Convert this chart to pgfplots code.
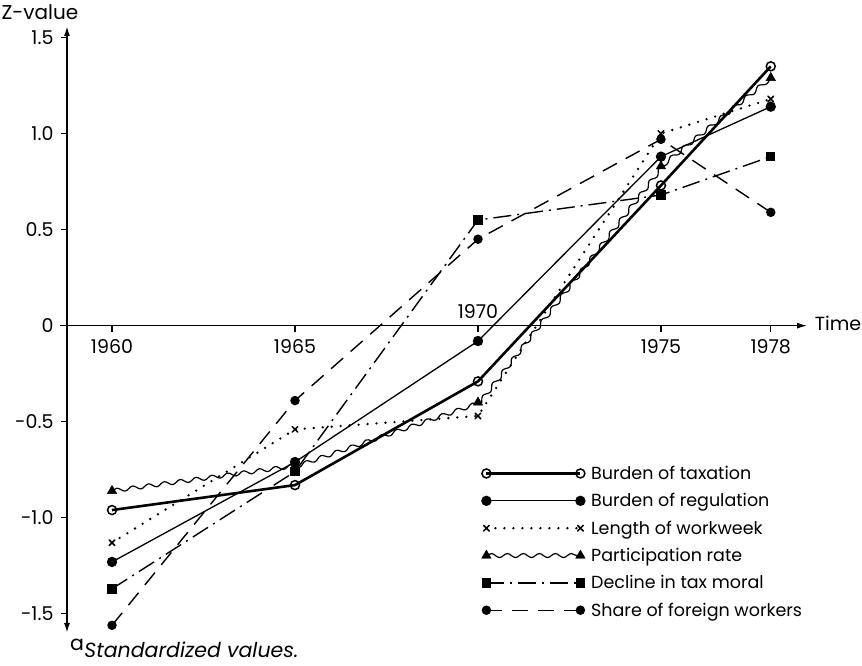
\documentclass[border=0pt]{standalone}
\usepackage{fontspec}
\setmainfont{Poppins}
\usepackage{pgfplots}
\pgfplotsset{compat=1.18}
\usetikzlibrary{decorations.pathmorphing,arrows.meta}
\begin{document}
\begin{tikzpicture}[font=\fontsize{19}{22}\selectfont]
\begin{axis}[name=ax, scale only axis, width=740pt, height=607pt,
  xmin=1958.77, xmax=1978.99, ymin=-1.6, ymax=1.56, clip=false,
  axis x line=middle, axis y line=left,
  x axis line style={line width=1.2pt, -{Latex[length=10pt,width=6pt]}},
  y axis line style={line width=1.8pt, {Latex[length=10pt,width=6pt]}-{Latex[length=10pt,width=6pt]}},
  xtick={1960,1965,1975,1978}, xticklabels={1960,1965,1975,1978},
  ytick={-1.5,-1,-0.5,0,0.5,1,1.5}, yticklabels={-1.5,-1.0,-0.5,0,0.5,1.0,1.5},
  tick align=outside, major tick length=6pt, tick style={black, line width=1.2pt},
  xticklabel style={yshift=-4pt},
  yticklabel style={xshift=-4pt},
  legend style={draw=none, fill=none, at={(0.556,0.282)}, anchor=north west, font=\fontsize{17.5}{20}\selectfont,
    row sep=8.5pt, column sep=4pt},
  legend cell align=left,
  legend image code/.code={\draw[mark repeat=1,#1] plot coordinates {(0pt,0pt) (94pt,0pt)};},
]
\addplot[black, line width=2.6pt, mark=o, mark size=4.5pt, mark options={fill=white, line width=1.5pt}]
  coordinates {(1960,-0.96)(1965,-0.83)(1970,-0.29)(1975,0.73)(1978,1.35)};
\addlegendentry{Burden of taxation}
\addplot[black, line width=1.3pt, mark=*, mark size=4.5pt]
  coordinates {(1960,-1.23)(1965,-0.71)(1970,-0.08)(1975,0.88)(1978,1.14)};
\addlegendentry{Burden of regulation}
\addplot[black, line width=2.6pt, line cap=round, dash pattern=on 0pt off 9pt, mark=x, mark size=4pt, mark options={solid, line width=1.5pt}]
  coordinates {(1960,-1.13)(1965,-0.54)(1970,-0.47)(1975,1.00)(1978,1.18)};
\addlegendentry{Length of workweek}
\addplot[black, line width=1.2pt, decoration={snake, amplitude=2pt, segment length=16pt}, decorate, forget plot]
  coordinates {(1960,-0.86)(1965,-0.73)(1970,-0.40)(1975,0.83)(1978,1.29)};
\addplot[black, only marks, mark=triangle*, mark size=5.5pt,
  legend image code/.code={\draw[black, line width=1.2pt, decoration={snake, amplitude=2pt, segment length=16pt}, decorate] (0pt,0pt) -- (94pt,0pt);
    \draw[black, draw=none, mark=triangle*, mark size=5.5pt, mark options={draw=black, fill=black}, mark repeat=1] plot coordinates {(0pt,0pt) (94pt,0pt)};}]
  coordinates {(1960,-0.86)(1965,-0.73)(1970,-0.40)(1975,0.83)(1978,1.29)};
\addlegendentry{Participation rate}
\addplot[black, line width=1.4pt, dash pattern=on 18pt off 6pt on 2pt off 6pt, mark=square*, mark size=4pt, mark options={solid}]
  coordinates {(1960,-1.37)(1965,-0.76)(1970,0.55)(1975,0.68)(1978,0.88)};
\addlegendentry{Decline in tax moral}
\addplot[black, line width=1.4pt, dash pattern=on 16pt off 10pt, mark=*, mark size=4pt, mark options={solid}]
  coordinates {(1960,-1.56)(1965,-0.39)(1970,0.45)(1975,0.97)(1978,0.59)};
\addlegendentry{Share of foreign workers}
\draw[line width=1.2pt] (axis cs:1958.58,0) -- (axis cs:1958.77,0);
\draw[line width=1.2pt] (axis cs:1970,0) -- (axis cs:1970,-0.035);
\node[anchor=south] at (axis cs:1970,0.02) {1970};
\node[font=\fontsize{20}{22}\selectfont] at (axis cs:1958.03,1.63) {Z-value};
\node[anchor=west, inner sep=0pt] at (axis cs:1979.2,0.01) {Time};
\node[anchor=base west, inner sep=0pt, font=\fontsize{20.5}{22}\selectfont] at (axis cs:1958.85,-1.73) {$^{\textrm{a}}$\textit{Standardized values.}};
\end{axis}
\pgfresetboundingbox
\useasboundingbox ([xshift=-67pt,yshift=-33pt]ax.south west) rectangle ([xshift=55pt,yshift=26pt]ax.north east);
\end{tikzpicture}
\end{document}
